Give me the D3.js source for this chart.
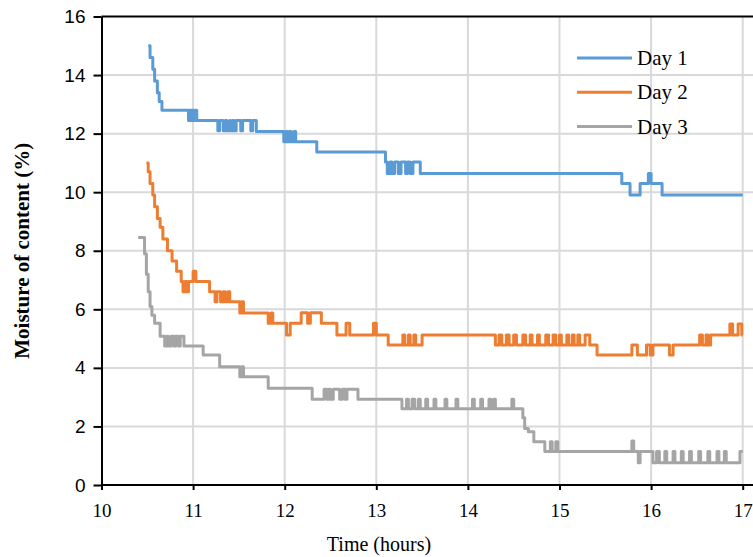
<!DOCTYPE html>
<html>
<head>
<meta charset="utf-8">
<script src="https://cdn.jsdelivr.net/npm/d3@7.9.0/dist/d3.min.js"></script>
<style>
  body { margin: 0; background: #fff; }
  svg { display: block; }
</style>
</head>
<body>
<svg id="chart"></svg>
<script>
// moisture readings, [hour, moisture %]
const day1 = [
  [10.51, 15.0], [10.53, 14.6], [10.56, 14.2], [10.58, 13.8], [10.61, 13.4], [10.63, 13.1],
  [10.66, 12.8], [10.95, 12.45], [10.96, 12.8], [10.98, 12.45], [10.99, 12.8], [11.01, 12.45],
  [11.02, 12.8], [11.04, 12.45], [11.27, 12.1], [11.29, 12.45], [11.33, 12.1], [11.35, 12.45],
  [11.37, 12.1], [11.40, 12.45], [11.41, 12.1], [11.43, 12.45], [11.45, 12.1], [11.47, 12.45],
  [11.52, 12.1], [11.54, 12.45], [11.63, 12.1], [11.65, 12.45], [11.69, 12.07], [11.99, 11.72],
  [12.01, 12.07], [12.03, 11.72], [12.05, 12.07], [12.07, 11.72], [12.10, 12.07], [12.12, 11.72],
  [12.35, 11.37], [13.10, 11.03], [13.12, 10.64], [13.15, 11.03], [13.17, 10.64], [13.20, 11.03],
  [13.24, 10.64], [13.27, 11.03], [13.32, 10.64], [13.34, 11.03], [13.37, 10.64], [13.40, 11.03],
  [13.48, 10.64], [15.68, 10.3], [15.77, 9.9], [15.88, 10.3], [15.97, 10.64], [16.00, 10.3],
  [16.12, 9.9], [17.0, 9.9]
];
const day2 = [
  [10.49, 11.0], [10.51, 10.7], [10.53, 10.3], [10.56, 9.9], [10.58, 9.5], [10.61, 9.1],
  [10.64, 8.8], [10.67, 8.4], [10.72, 8.0], [10.77, 7.65], [10.82, 7.3], [10.87, 6.95],
  [10.89, 6.6], [10.91, 6.95], [10.93, 6.6], [10.95, 6.95], [11.00, 7.3], [11.03, 6.95],
  [11.18, 6.6], [11.24, 6.26], [11.26, 6.6], [11.30, 6.26], [11.33, 6.6], [11.35, 6.26],
  [11.38, 6.6], [11.40, 6.26], [11.51, 5.87], [11.53, 6.26], [11.55, 5.87], [11.82, 5.52],
  [11.85, 5.87], [11.87, 5.52], [12.02, 5.12], [12.06, 5.52], [12.18, 5.88], [12.25, 5.52],
  [12.28, 5.88], [12.40, 5.52], [12.57, 5.12], [12.67, 5.52], [12.71, 5.12], [12.97, 5.52],
  [13.00, 5.12], [13.13, 4.78], [13.29, 5.12], [13.31, 4.78], [13.35, 5.12], [13.37, 4.78],
  [13.41, 5.12], [13.43, 4.78], [13.50, 5.12], [14.30, 4.78], [14.34, 5.12], [14.37, 4.78],
  [14.42, 5.12], [14.45, 4.78], [14.50, 5.12], [14.53, 4.78], [14.60, 5.12], [14.63, 4.78],
  [14.68, 5.12], [14.70, 4.78], [14.76, 5.12], [14.78, 4.78], [14.85, 5.12], [14.88, 4.78],
  [14.93, 5.12], [14.96, 4.78], [15.00, 5.12], [15.02, 4.78], [15.08, 5.12], [15.10, 4.78],
  [15.14, 5.12], [15.16, 4.78], [15.20, 5.12], [15.22, 4.78], [15.28, 5.12], [15.33, 4.78],
  [15.41, 4.44], [15.79, 4.78], [15.85, 4.44], [15.95, 4.78], [15.99, 4.44], [16.02, 4.78],
  [16.20, 4.44], [16.24, 4.78], [16.53, 5.12], [16.56, 4.78], [16.60, 5.12], [16.62, 4.78],
  [16.65, 5.12], [16.86, 5.5], [16.89, 5.12], [16.95, 5.5], [16.99, 5.12], [17.0, 5.12]
];
const day3 = [
  [10.40, 8.45], [10.45, 8.45], [10.47, 7.9], [10.49, 7.2], [10.51, 6.6], [10.53, 6.1],
  [10.55, 5.8], [10.58, 5.52], [10.64, 5.08], [10.69, 4.75], [10.71, 5.08], [10.73, 4.75],
  [10.76, 5.08], [10.79, 4.75], [10.81, 5.08], [10.84, 4.75], [10.86, 5.08], [10.90, 4.75],
  [11.11, 4.44], [11.29, 4.04], [11.51, 3.7], [11.53, 4.04], [11.55, 3.7], [11.82, 3.3],
  [12.30, 2.93], [12.43, 3.27], [12.46, 2.93], [12.48, 3.27], [12.50, 2.93], [12.53, 3.27],
  [12.60, 2.93], [12.63, 3.27], [12.66, 2.93], [12.68, 3.27], [12.80, 2.93], [13.28, 2.6],
  [13.33, 2.93], [13.35, 2.6], [13.39, 2.93], [13.42, 2.6], [13.46, 2.93], [13.48, 2.6],
  [13.54, 2.93], [13.56, 2.6], [13.63, 2.93], [13.65, 2.6], [13.75, 2.93], [13.77, 2.6],
  [13.87, 2.93], [13.89, 2.6], [14.05, 2.93], [14.07, 2.6], [14.14, 2.93], [14.16, 2.6],
  [14.23, 2.93], [14.25, 2.6], [14.28, 2.93], [14.30, 2.6], [14.48, 2.93], [14.50, 2.6],
  [14.60, 2.3], [14.62, 1.93], [14.66, 1.82], [14.72, 1.48], [14.84, 1.14], [14.90, 1.48],
  [14.92, 1.14], [14.96, 1.48], [14.98, 1.14], [15.79, 1.5], [15.81, 1.14], [15.86, 0.76],
  [15.88, 1.14], [16.02, 0.76], [16.06, 1.14], [16.09, 0.76], [16.15, 1.14], [16.17, 0.76],
  [16.24, 1.14], [16.26, 0.76], [16.33, 1.14], [16.35, 0.76], [16.42, 1.14], [16.44, 0.76],
  [16.52, 1.14], [16.54, 0.76], [16.62, 1.14], [16.64, 0.76], [16.72, 1.14], [16.74, 0.76],
  [16.80, 1.14], [16.82, 0.76], [16.97, 1.14], [17.0, 1.14]
];

const seriesNames = ["Day 1", "Day 2", "Day 3"];
const seriesColors = ["#5b9bd5", "#ed7d31", "#a5a5a5"];
const xTicks = [10, 11, 12, 13, 14, 15, 16, 17];
const yTicks = [0, 2, 4, 6, 8, 10, 12, 14, 16];

const W = 753, H = 557;
const plotLeft = 101.5, plotRight = 742.7, plotTop = 16.5, plotBottom = 485;
const serif = "'Liberation Serif', 'Times New Roman', serif";

const svg = d3.select("#chart").attr("width", W).attr("height", H);

const x = d3.scaleLinear().domain([10, 17]).range([plotLeft, plotRight]);
const y = d3.scaleLinear().domain([0, 16]).range([plotBottom, plotTop]);

// gridlines
svg.append("g")
  .selectAll("line")
  .data(xTicks.slice(1))
  .join("line")
  .attr("x1", d => x(d)).attr("x2", d => x(d))
  .attr("y1", plotTop).attr("y2", plotBottom)
  .attr("stroke", "#d9d9d9").attr("stroke-width", 2);

svg.append("g")
  .selectAll("line")
  .data(yTicks.slice(1, -1))
  .join("line")
  .attr("x1", plotLeft).attr("x2", W)
  .attr("y1", d => y(d)).attr("y2", d => y(d))
  .attr("stroke", "#d9d9d9").attr("stroke-width", 2);

// top frame line
svg.append("line")
  .attr("x1", plotLeft).attr("x2", W)
  .attr("y1", y(16)).attr("y2", y(16))
  .attr("stroke", "#000").attr("stroke-width", 2);

// series
const line = d3.line()
  .x(d => x(d[0]))
  .y(d => y(d[1]))
  .curve(d3.curveStepAfter);

[day1, day2, day3].forEach((data, i) => {
  svg.append("path")
    .datum(data)
    .attr("fill", "none")
    .attr("stroke", seriesColors[i])
    .attr("stroke-width", 3)
    .attr("stroke-linejoin", "round")
    .attr("d", line);
});

// axes
const xAxis = svg.append("g")
  .attr("transform", `translate(0,${plotBottom})`)
  .call(d3.axisBottom(x).tickValues(xTicks).tickFormat(d3.format("d"))
    .tickSize(5).tickSizeOuter(0).tickPadding(14));
xAxis.select(".domain").attr("stroke-width", 2).attr("d", `M${plotLeft},0H${W}`);
xAxis.selectAll("line").attr("stroke-width", 2);
xAxis.selectAll("text")
  .attr("font-family", serif)
  .attr("font-size", 19).attr("fill", "#000");

const yAxis = svg.append("g")
  .attr("transform", `translate(${plotLeft},0)`)
  .call(d3.axisLeft(y).tickValues(yTicks).tickSize(8).tickSizeOuter(0).tickPadding(8));
yAxis.select(".domain").attr("stroke-width", 2);
yAxis.selectAll("line").attr("stroke-width", 2);
yAxis.selectAll("text")
  .attr("font-family", "'Liberation Sans', Arial, sans-serif")
  .attr("font-size", 19).attr("fill", "#000");

// titles
svg.append("text")
  .attr("x", 379).attr("y", 551)
  .attr("text-anchor", "middle")
  .attr("font-family", serif)
  .attr("font-size", 20)
  .text("Time (hours)");

svg.append("text")
  .attr("transform", `translate(29,${(plotTop + plotBottom) / 2}) rotate(-90)`)
  .attr("text-anchor", "middle")
  .attr("font-family", serif)
  .attr("font-weight", "bold")
  .attr("font-size", 21)
  .text("Moisture of content (%)");

// legend
const legend = svg.append("g").attr("transform", "translate(577,58)");
seriesNames.forEach((name, i) => {
  const g = legend.append("g").attr("transform", `translate(0,${i * 34.3})`);
  g.append("line").attr("x1", 0).attr("x2", 55).attr("y1", 0).attr("y2", 0)
    .attr("stroke", seriesColors[i]).attr("stroke-width", 3);
  g.append("text").attr("x", 60).attr("y", 7)
    .attr("font-family", serif)
    .attr("font-size", 21)
    .text(name);
});
</script>
</body>
</html>
